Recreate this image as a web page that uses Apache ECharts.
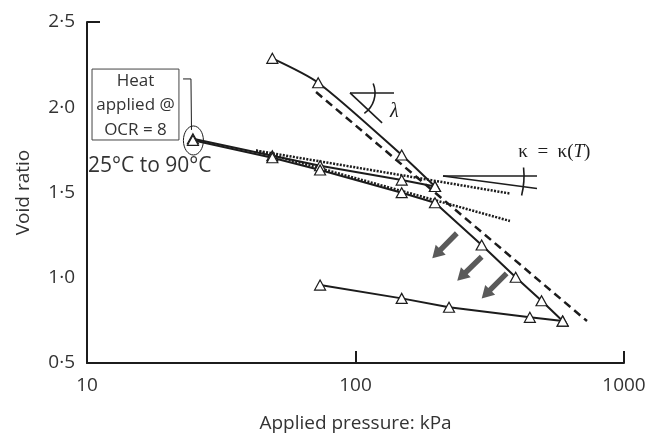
<!DOCTYPE html>
<html>
<head>
<meta charset="utf-8">
<script src="https://cdn.jsdelivr.net/npm/echarts@6/dist/echarts.min.js"></script>
<style>
  html, body { margin: 0; padding: 0; background: #ffffff; }
  #chart { width: 653px; height: 439px; }
</style>
</head>
<body>
<div id="chart"></div>
<script>
// Void ratio against applied pressure (log scale), heating test on clay

const yTicks = [0.5, 1.0, 1.5, 2.0, 2.5];
const xTicks = [10, 100, 1000];

// [pressure kPa, void ratio]
const loading25 = [[49.0, 2.287], [72.6, 2.144], [148.6, 1.720], [197.7, 1.535]];
const unloading25 = [[197.7, 1.535], [148.6, 1.573], [73.8, 1.657], [49.0, 1.716], [24.8, 1.815]];
const reloading90 = [[24.8, 1.806], [49.0, 1.704], [73.8, 1.632], [148.6, 1.499], [197.7, 1.440],
                     [295, 1.192], [395, 1.003], [493, 0.865], [591, 0.746]];
const unloading90 = [[591, 0.746], [446, 0.768], [223, 0.827], [148.6, 0.879], [73.8, 0.957]];

// compression line (dashed) and swelling lines (dotted)
const nclLine = [[71.3, 2.089], [728, 0.746]];
const kappaUpper = [[42.6, 1.746], [376, 1.494]];
const kappaLower = [[42.6, 1.746], [376, 1.333]];

// [from p, from e, to p, to e]
const shiftArrows = [
  [238.4, 1.261, 193.2, 1.114],
  [295.1, 1.123, 239.3, 0.983],
  [365.5, 1.026, 295.1, 0.879]
];

// annotation anchors, in data units
const heatBox = { topLeft: [10.44, 2.224], bottomRight: [22.0, 1.808] };
const heatLeader = [[22.79, 2.166], [24.39, 2.166], [24.5, 1.867]];
const heatPoint = [24.8, 1.811];
const tempLabelAt = [10.09, 1.655];
const lambdaMark = { vertex: [95.4, 2.084], flatEnd: [139.1, 2.084], slopeEnd: [125.6, 1.908], label: [134.5, 1.972] };
const kappaMark = { vertex: [211.8, 1.597], flatEnd: [474.3, 1.597], slopeEnd: [474.3, 1.5235], label: [404, 1.735] };

const INK = '#1c1c1c';
const TEXT = '#333333';
const FONT = '"Open Sans", "Noto Sans", sans-serif';
const SERIF = '"Liberation Serif", "DejaVu Serif", serif';

const chart = echarts.init(document.getElementById('chart'), null, { renderer: 'canvas' });

const triSymbol = {
  symbol: 'triangle',
  symbolSize: [11, 10],
  showAllSymbol: true,
  itemStyle: { color: '#ffffff', borderColor: INK, borderWidth: 1.2 }
};

function solid(name, data) {
  return Object.assign({
    name, type: 'line', data,
    lineStyle: { color: INK, width: 2 },
    z: 4
  }, triSymbol);
}

const option = {
  animation: false,
  backgroundColor: '#ffffff',
  grid: { left: 87, right: 29, top: 22, bottom: 76, containLabel: false, outerBoundsMode: 'none' },
  xAxis: {
    type: 'log', logBase: 10, min: xTicks[0], max: xTicks[xTicks.length - 1],
    name: 'Applied pressure: kPa', nameLocation: 'middle', nameGap: 51,
    nameTextStyle: { fontFamily: FONT, fontSize: 19, color: TEXT },
    axisLine: { lineStyle: { color: INK, width: 2 } },
    axisTick: { show: true, inside: true, length: 12, lineStyle: { color: INK, width: 2 } },
    minorTick: { show: false },
    splitLine: { show: false },
    axisLabel: { fontFamily: FONT, fontSize: 19, color: TEXT, margin: 13,
                 formatter: v => String(Math.round(v)) }
  },
  yAxis: [{
    type: 'value', min: yTicks[0], max: yTicks[yTicks.length - 1], interval: 0.5,
    name: 'Void ratio', nameLocation: 'middle', nameGap: 54,
    nameTextStyle: { fontFamily: FONT, fontSize: 19, color: TEXT },
    axisLine: { show: true, lineStyle: { color: INK, width: 2 } },
    axisTick: { show: false },
    splitLine: { show: false },
    axisLabel: {
      fontFamily: FONT, fontSize: 19, color: TEXT, margin: 12,
      formatter: v => v.toFixed(1).replace('.', '\u00B7')
    }
  }, {
    // end tick at the top of the void-ratio axis
    type: 'value', min: yTicks[0], max: yTicks[yTicks.length - 1], interval: 2,
    position: 'left',
    axisLine: { show: false },
    axisTick: { show: true, inside: true, length: 13, lineStyle: { color: INK, width: 2 } },
    axisLabel: { show: false },
    splitLine: { show: false }
  }],
  series: [
    {
      name: 'NCL', type: 'line', data: nclLine, showSymbol: false, z: 2,
      lineStyle: { color: INK, width: 2.5, type: [8, 5] }
    },
    {
      name: 'kappa upper', type: 'line', data: kappaUpper, showSymbol: false, z: 3,
      lineStyle: { color: INK, width: 2.5, type: [2, 1.4] }
    },
    {
      name: 'kappa lower', type: 'line', data: kappaLower, showSymbol: false, z: 3,
      lineStyle: { color: INK, width: 2.5, type: [2, 1.4] }
    },
    Object.assign(solid('25 °C loading', loading25), { smooth: 0.25 }),
    solid('25 °C unloading', unloading25),
    solid('90 °C reloading', reloading90),
    solid('90 °C unloading', unloading90),
    {
      name: 'shift', type: 'custom', coordinateSystem: 'cartesian2d',
      data: shiftArrows, encode: { x: [0, 2], y: [1, 3] }, z: 5,
      renderItem(params, api) {
        const a = api.coord([api.value(0), api.value(1)]);
        const b = api.coord([api.value(2), api.value(3)]);
        const dx = b[0] - a[0], dy = b[1] - a[1];
        const len = Math.hypot(dx, dy);
        const ux = dx / len, uy = dy / len, nx = -uy, ny = ux;
        const headLen = 12, headHalf = 7, shaftHalf = 2.7;
        const bx = b[0] - ux * headLen, by = b[1] - uy * headLen;
        return {
          type: 'polygon',
          shape: { points: [
            [a[0] + nx * shaftHalf, a[1] + ny * shaftHalf],
            [bx + nx * shaftHalf, by + ny * shaftHalf],
            [bx + nx * headHalf, by + ny * headHalf],
            [b[0], b[1]],
            [bx - nx * headHalf, by - ny * headHalf],
            [bx - nx * shaftHalf, by - ny * shaftHalf],
            [a[0] - nx * shaftHalf, a[1] - ny * shaftHalf]
          ] },
          style: { fill: '#5a5a5a' }
        };
      }
    }
  ]
};

chart.setOption(option);

// annotations placed from data coordinates
const px = v => chart.convertToPixel({ xAxisIndex: 0, yAxisIndex: 0 }, v);
const deg = d => d * Math.PI / 180;

const tl = px(heatBox.topLeft), br = px(heatBox.bottomRight);
const hp = px(heatPoint);
const lv = px(lambdaMark.vertex), lf = px(lambdaMark.flatEnd), ls = px(lambdaMark.slopeEnd), ll = px(lambdaMark.label);
const kv = px(kappaMark.vertex), kf = px(kappaMark.flatEnd), ks = px(kappaMark.slopeEnd), kl = px(kappaMark.label);
const tp = px(tempLabelAt);

const thin = { stroke: INK, lineWidth: 1, fill: null };
const mid = { stroke: INK, lineWidth: 1.6, fill: null };

chart.setOption({
  graphic: [
    { type: 'rect', shape: { x: tl[0], y: tl[1], width: br[0] - tl[0], height: br[1] - tl[1] },
      style: { stroke: '#444', lineWidth: 1, fill: '#ffffff' }, z: 10 },
    { type: 'text', x: (tl[0] + br[0]) / 2, y: (tl[1] + br[1]) / 2 + 1, z: 11,
      style: { text: 'Heat\napplied @\nOCR = 8', fontFamily: FONT, fontSize: 17, lineHeight: 24.5,
               fill: TEXT, align: 'center', verticalAlign: 'middle' } },
    { type: 'polyline', shape: { points: heatLeader.map(px) }, style: thin, z: 10 },
    { type: 'ellipse', shape: { cx: hp[0] + 0.5, cy: hp[1] + 1, rx: 10, ry: 14.5 }, style: thin, z: 10 },
    { type: 'text', x: tp[0], y: tp[1], z: 11,
      style: { text: '25\u00B0C to 90\u00B0C', fontFamily: FONT, fontSize: 21, fill: TEXT,
               align: 'left', verticalAlign: 'middle' } },

    { type: 'line', shape: { x1: lv[0], y1: lv[1], x2: lf[0], y2: lf[1] }, style: mid, z: 10 },
    { type: 'line', shape: { x1: lv[0], y1: lv[1], x2: ls[0], y2: ls[1] }, style: mid, z: 10 },
    { type: 'arc', shape: { cx: lv[0], cy: lv[1], r: 25, startAngle: deg(-22), endAngle: deg(55), clockwise: true },
      style: mid, z: 10 },
    { type: 'text', x: ll[0], y: ll[1], z: 11,
      style: { text: '\u03BB', fontFamily: SERIF, fontStyle: 'italic',
               fontSize: 20, fill: INK, align: 'left', verticalAlign: 'middle' } },

    { type: 'line', shape: { x1: kv[0], y1: kv[1], x2: kf[0], y2: kf[1] }, style: mid, z: 10 },
    { type: 'line', shape: { x1: kv[0], y1: kv[1], x2: ks[0], y2: ks[1] }, style: mid, z: 10 },
    { type: 'arc', shape: { cx: kv[0], cy: kv[1], r: 81, startAngle: deg(-6), endAngle: deg(14), clockwise: true },
      style: mid, z: 10 },
    { type: 'text', x: kl[0], y: kl[1], z: 11,
      style: {
        text: '{n|\u03BA\u2002=\u2002\u03BA(}{i|T}{n|)}',
        align: 'left', verticalAlign: 'middle',
        rich: {
          n: { fontFamily: SERIF, fontSize: 19, fill: INK },
          i: { fontFamily: SERIF, fontSize: 19, fontStyle: 'italic', fill: INK }
        }
      } }
  ]
});
</script>
</body>
</html>
